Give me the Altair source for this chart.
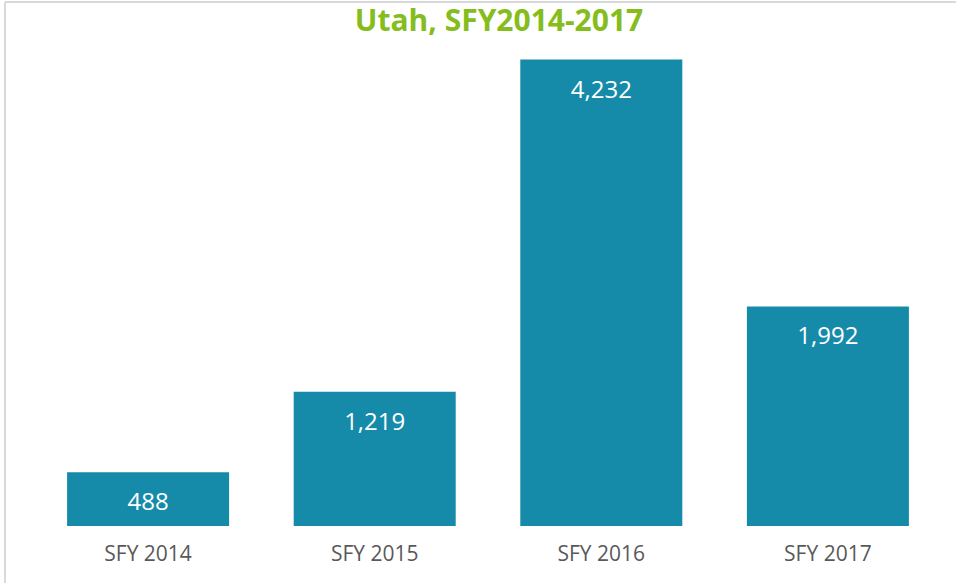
import altair as alt
import pandas as pd

categories = ["SFY 2014", "SFY 2015", "SFY 2016", "SFY 2017"]
values = [488, 1219, 4232, 1992]
title_text = "Utah, SFY2014-2017"

df = pd.DataFrame({"year": categories, "value": values})
df["label"] = [f"{v:,}" for v in values]

BAR = "#168BA9"
GREEN = "#84BD1C"

x = alt.X("year:N", sort=categories,
          scale=alt.Scale(paddingInner=0.285, paddingOuter=0.146),
          axis=alt.Axis(title=None, labelAngle=0, domain=False, ticks=False,
                        labelFont="Open Sans", labelFontSize=21,
                        labelColor="#595959", labelPadding=17))
y = alt.Y("value:Q", scale=alt.Scale(domain=[0, 4500], nice=False),
          axis=None)

bars = alt.Chart(df).mark_bar(color=BAR).encode(x=x, y=y)

labels = alt.Chart(df).mark_text(
    font="Open Sans", fontSize=24, color="white", baseline="middle", dy=31
).encode(x=alt.X("year:N", sort=categories), y="value:Q", text="label:N")

frame = pd.DataFrame({"k": [0], "title": [title_text]})
left_line = alt.Chart(frame).mark_rule(color="#d9d9d9", strokeWidth=2).encode(
    x=alt.value(-29), y=alt.value(-28), y2=alt.value(553))
top_line = alt.Chart(frame).mark_rule(color="#d9d9d9", strokeWidth=2).encode(
    x=alt.value(-29), x2=alt.value(922), y=alt.value(-28))
title = alt.Chart(frame).mark_text(
    font="Open Sans", fontSize=30, fontWeight="bold", color=GREEN,
    align="center", baseline="alphabetic"
).encode(x=alt.value(465), y=alt.value(1), text="title:N")

chart = alt.layer(bars, labels, left_line, top_line, title).properties(
    width=908, height=496,
    autosize=alt.AutoSizeParams(type="none"),
    padding={"left": 34, "top": 30, "right": 14, "bottom": 57},
).configure(background="white").configure_view(strokeWidth=0, stroke="transparent")

chart.save("out.html", embed_options={"renderer": "svg", "actions": False})
